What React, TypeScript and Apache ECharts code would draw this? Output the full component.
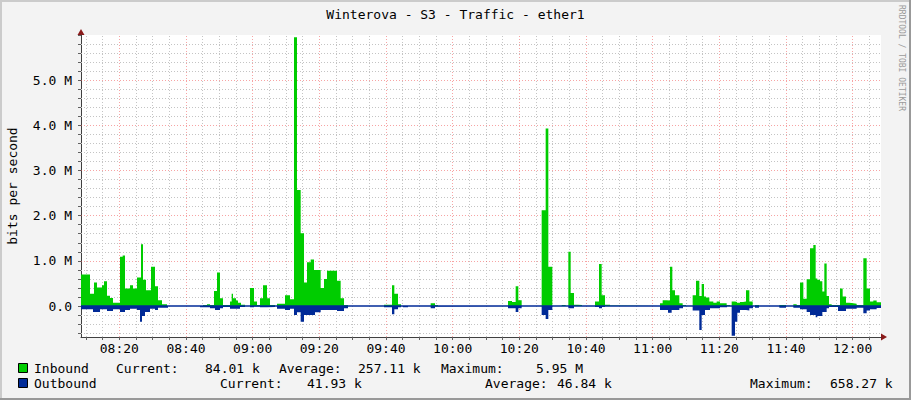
import React, { useEffect, useRef } from "react";
import * as echarts from "echarts";

const TITLE = "Winterova - S3 - Traffic - ether1";
const Y_TITLE = "bits per second";
const WATERMARK = "RRDTOOL / TOBI OETIKER";
const FONT = "DejaVu Sans Mono";

// time axis: minutes after 08:00
const X_START = 8.5;
const X_END = 248.5;
const Y_MIN = -0.686;
const Y_MAX = 6.0;

const xLabelMinutes = [20, 40, 60, 80, 100, 120, 140, 160, 180, 200, 220, 240];
const yLabelValues = [0, 1, 2, 3, 4, 5];

// Inbound (Mbit/s), step segments starting at given minute
const inboundTimes = [
  8.5, 11.2, 12.4, 13.3, 14.8, 15.4, 16.3, 17.2, 18.1, 20.2, 21.0, 21.7, 23.2, 24.1, 25.3, 26.5, 27.1, 28.0,
  29.5, 30.7, 31.6, 32.8, 34.3, 45.1, 46.3, 47.2, 48.4, 49.3, 50.2, 51.1, 53.2, 53.7, 54.1, 55.0, 55.6, 56.5,
  57.7, 59.2, 60.4, 61.3, 62.2, 63.1, 64.3, 65.2, 66.7, 67.3, 69.7, 71.2, 72.4, 73.3, 74.4, 75.4, 76.3, 77.4,
  78.4, 80.4, 81.4, 82.3, 85.3, 86.4, 87.4, 88.6, 99.4, 101.8, 102.5, 103.6, 104.5, 113.4, 114.7, 115.6, 136.6,
  137.8, 138.9, 139.7, 140.7, 146.7, 147.9, 148.7, 149.9, 152.7, 153.9, 154.7, 155.4, 156.4, 157.6, 158.8,
  162.7, 163.9, 164.7, 165.7, 167.2, 168.1, 182.2, 183.0, 184.2, 185.2, 185.9, 186.7, 188.0, 189.0, 190.0,
  192.0, 193.0, 194.0, 194.7, 195.4, 196.0, 197.0, 198.2, 199.2, 200.2, 202.2, 203.2, 203.7, 204.7, 205.3,
  206.2, 207.1, 208.0, 209.0, 210.0, 210.7, 211.9, 218.0, 220.0, 222.2, 223.2, 224.2, 225.2, 226.2, 227.2,
  228.2, 228.9, 229.4, 230.2, 230.9, 231.5, 232.2, 232.9, 233.7, 236.2, 237.0, 238.0, 239.0, 240.2, 241.2,
  243.2, 244.2, 245.2, 246.2, 247.2,
];
const inboundValues = [
  0.7, 0.27, 0.52, 0.41, 0.46, 0.55, 0.23, 0.18, 0.07, 1.09, 1.12, 0.39, 0.46, 0.39, 0.63, 1.37, 0.58, 0.35,
  0.87, 0.44, 0.13, 0.04, 0, 0.02, 0.04, 0.02, 0.33, 0.74, 0.17, 0.02, 0.1, 0.27, 0.17, 0.12, 0.07, 0.03,
  0, 0.4, 0.1, 0.02, 0.17, 0.46, 0.17, 0.02, 0, 0.05, 0.24, 0.15, 5.95, 2.57, 1.61, 0.52, 0.97, 1.03,
  0.8, 0.4, 0.6, 0.78, 0.56, 0.17, 0.02, 0, 0.03, 0.46, 0.27, 0.04, 0, 0.06, 0.02, 0, 0.11,
  0.09, 0.44, 0.13, 0, 2.12, 3.93, 0.87, 0, 0.02, 0, 1.2, 0.29, 0.03, 0.02, 0,
  0.1, 0.93, 0.24, 0.03, 0.01, 0, 0.06, 0.13, 0.12, 0.87, 0.35, 0.24, 0.06, 0.02, 0,
  0.24, 0.56, 0.22, 0.49, 0.21, 0.19, 0.1, 0.07, 0.1, 0.06, 0.02, 0, 0.1, 0.09, 0.07,
  0.09, 0.1, 0.35, 0.1, 0, 0.02, 0, 0.02, 0, 0.04, 0.02, 0.52, 0.16, 0.59, 1.28,
  1.35, 0.61, 0.58, 0.55, 0.32, 0.94, 0.22, 0.04, 0.02, 0.39, 0.21, 0.07, 0.06, 0.05, 0.02,
  1.06, 0.39, 0.1, 0.12, 0.084,
];

// Outbound (Mbit/s, drawn negative)
const outboundTimes = [
  8.5, 12.1, 14.2, 16.3, 18.1, 20.2, 21.7, 23.2, 25.3, 26.2, 26.8, 27.7, 29.2, 30.7, 31.6, 34.6, 44.2, 47.2,
  48.7, 50.2, 51.1, 53.2, 56.2, 57.7, 59.2, 60.4, 62.2, 64.3, 66.7, 67.3, 69.7, 71.2, 72.4, 73.3, 74.4, 75.4,
  78.7, 80.4, 85.3, 87.4, 88.6, 99.4, 101.8, 102.5, 103.6, 104.5, 105.1, 106.6, 113.4, 114.7, 115.6, 136.6,
  138.9, 139.7, 140.7, 146.7, 147.9, 148.7, 149.9, 154.7, 156.4, 162.7, 163.9, 164.8, 165.7, 182.2, 184.6,
  185.7, 188.0, 189.1, 192.0, 194.0, 194.7, 195.7, 197.2, 200.2, 202.3, 203.7, 204.7, 205.4, 206.2, 208.0,
  209.0, 210.1, 210.7, 211.9, 218.0, 220.0, 222.2, 224.2, 226.2, 227.2, 228.9, 229.4, 230.9, 232.2, 232.9,
  235.6, 238.0, 241.2, 243.2, 244.2, 245.2, 247.2,
];
const outboundValues = [
  -0.07, -0.13, -0.07, -0.11, -0.07, -0.13, -0.09, -0.06, -0.09, -0.35, -0.22, -0.13, -0.06, -0.09, -0.04, 0, -0.03, -0.05,
  -0.09, -0.05, -0.02, -0.06, -0.02, 0, -0.03, -0.01, -0.03, -0.02, 0, -0.06, -0.09, -0.06, -0.2, -0.14, -0.35, -0.2,
  -0.14, -0.09, -0.11, -0.05, 0, -0.03, -0.18, -0.07, -0.03, 0, -0.03, 0, -0.05, -0.01, 0, -0.05,
  -0.13, -0.05, 0, -0.2, -0.29, -0.09, 0, -0.05, 0, -0.02, -0.05, -0.02, 0, -0.09, -0.15,
  -0.09, -0.05, 0, -0.1, -0.53, -0.2, -0.09, -0.05, -0.03, 0, -0.658, -0.35, -0.15, -0.09, -0.1,
  -0.05, 0, -0.04, 0, -0.04, 0, -0.04, -0.07, -0.13, -0.2, -0.25, -0.22, -0.13, -0.05, -0.02,
  -0.11, -0.06, -0.04, -0.16, -0.1, -0.07, -0.042,
];

const legendInbound = ["Inbound", "Current:", "84.01 k", "Average:", "257.11 k", "Maximum:", "5.95 M"];
const legendOutbound = ["Outbound", "Current:", "41.93 k", "Average:", "46.84 k", "Maximum:", "658.27 k"];
const legendInboundX = [34, 116, 205, 279, 358, 441, 536];
const legendOutboundX = [34, 220, 307, 485, 557, 750, 830];

const IN_COLOR = "#00cc00";
const OUT_COLOR = "#002a97";

function toPairs(times: number[], values: number[]) {
  const d = times.map((t, i) => [t, values[i]]);
  d.push([X_END, values[values.length - 1]]);
  return d;
}

function fmtTime(m: number) {
  const h = 8 + Math.floor(m / 60);
  const mm = Math.round(m % 60);
  return (h < 10 ? "0" : "") + h + ":" + (mm < 10 ? "0" : "") + mm;
}

export default function App() {
  const ref = useRef<HTMLDivElement>(null);
  useEffect(() => {
    document.body.style.margin = "0";
    const chart = echarts.init(ref.current!, null, { renderer: "svg" });

    const minorX: number[] = [];
    const majorX: number[] = [];
    for (let m = 10; m <= 245; m += 5) {
      if (m % 20 === 0) majorX.push(m);
      else minorX.push(m);
    }
    const minorY: number[] = [];
    const majorY: number[] = [];
    const yTicks: number[] = [];
    for (let k = -3; k <= 30; k++) {
      const v = k / 5;
      yTicks.push(v);
      if (k % 5 === 0) {
        if (k > 0 && k < 30) majorY.push(v);
      } else minorY.push(v);
    }
    const xTicks = minorX.concat(majorX).sort((a, b) => a - b);

    const graphics: any[] = [
      // frame
      { type: "line", shape: { x1: 0, y1: 1, x2: 911, y2: 1 }, style: { stroke: "#cbcbcb", lineWidth: 2 } },
      { type: "line", shape: { x1: 1, y1: 0, x2: 1, y2: 400 }, style: { stroke: "#cbcbcb", lineWidth: 2 } },
      { type: "line", shape: { x1: 0, y1: 399, x2: 911, y2: 399 }, style: { stroke: "#999999", lineWidth: 2 } },
      { type: "line", shape: { x1: 910, y1: 0, x2: 910, y2: 400 }, style: { stroke: "#999999", lineWidth: 2 } },
      // title
      {
        type: "text", x: 455.5, y: 14,
        style: { text: TITLE, font: `13px "${FONT}"`, fill: "#000", textAlign: "center", textVerticalAlign: "middle" },
      },
      // y axis title
      {
        type: "text", x: 12, y: 186, rotation: Math.PI / 2,
        style: { text: Y_TITLE, font: `13px "${FONT}"`, fill: "#000", textAlign: "center", textVerticalAlign: "middle" },
      },
      // watermark
      {
        type: "text", x: 901, y: 5, rotation: -Math.PI / 2,
        style: { text: WATERMARK, font: `8px "${FONT}"`, fill: "#9a9a9a", textAlign: "left", textVerticalAlign: "middle" },
      },
      // arrows
      { type: "polygon", shape: { points: [[77.5, 35], [84.5, 35], [81, 29]] }, style: { fill: "#8b1a1a" } },
      { type: "polygon", shape: { points: [[881, 333.5], [881, 340.5], [887, 337]] }, style: { fill: "#8b1a1a" } },
      // legend squares
      { type: "rect", shape: { x: 18.5, y: 363.5, width: 9, height: 9 }, style: { fill: IN_COLOR, stroke: "#000", lineWidth: 1 } },
      { type: "rect", shape: { x: 18.5, y: 378.5, width: 9, height: 9 }, style: { fill: OUT_COLOR, stroke: "#000", lineWidth: 1 } },
    ];
    legendInbound.forEach((t, i) =>
      graphics.push({
        type: "text", x: legendInboundX[i], y: 368.5,
        style: { text: t, font: `13px "${FONT}"`, fill: "#000", textAlign: "left", textVerticalAlign: "middle" },
      })
    );
    legendOutbound.forEach((t, i) =>
      graphics.push({
        type: "text", x: legendOutboundX[i], y: 383.5,
        style: { text: t, font: `13px "${FONT}"`, fill: "#000", textAlign: "left", textVerticalAlign: "middle" },
      })
    );

    const option: any = {
      animation: false,
      backgroundColor: "#f3f3f3",
      grid: { left: 81, right: 30, top: 35, bottom: 63, show: true, backgroundColor: "#ffffff", borderWidth: 0 },
      xAxis: {
        type: "value",
        min: X_START,
        max: X_END,
        splitLine: { show: false },
        axisLine: { show: true, onZero: false, lineStyle: { color: "#404040", width: 1 } },
        axisTick: { show: true, customValues: xTicks, length: 3, lineStyle: { color: "#606060" } },
        axisLabel: {
          customValues: xLabelMinutes,
          formatter: (v: number) => fmtTime(v),
          fontFamily: FONT,
          fontSize: 13,
          color: "#000",
          margin: 5,
        },
      },
      yAxis: {
        type: "value",
        min: Y_MIN,
        max: Y_MAX,
        splitLine: { show: false },
        axisLine: { show: true, onZero: false, lineStyle: { color: "#404040", width: 1 } },
        axisTick: { show: true, customValues: yTicks, length: 3, lineStyle: { color: "#606060" } },
        axisLabel: {
          customValues: yLabelValues,
          formatter: (v: number) => (v === 0 ? "0.0" : v.toFixed(1) + " M"),
          fontFamily: FONT,
          fontSize: 13,
          color: "#000",
          margin: 9,
        },
      },
      graphic: graphics,
      series: [
        {
          type: "line",
          data: [],
          z: 1,
          silent: true,
          markLine: {
            z: 1,
            silent: true,
            symbol: ["none", "none"],
            label: { show: false },
            lineStyle: { color: "#c4c4c4", type: [1, 2], width: 1 },
            data: [...minorX.map((x) => ({ xAxis: x })), ...minorY.map((y) => ({ yAxis: y }))],
          },
        },
        {
          type: "line",
          data: [],
          z: 1,
          silent: true,
          markLine: {
            z: 1,
            silent: true,
            symbol: ["none", "none"],
            label: { show: false },
            lineStyle: { color: "rgba(240,90,90,0.55)", type: [1, 2], width: 1 },
            data: [...majorX.map((x) => ({ xAxis: x })), ...majorY.map((y) => ({ yAxis: y }))],
          },
        },
        {
          name: "Inbound",
          type: "line",
          step: "end",
          z: 3,
          showSymbol: false,
          silent: true,
          color: IN_COLOR,
          lineStyle: { width: 0 },
          areaStyle: { color: IN_COLOR, opacity: 1 },
          data: toPairs(inboundTimes, inboundValues),
        },
        {
          name: "Outbound",
          type: "line",
          step: "end",
          z: 4,
          showSymbol: false,
          silent: true,
          color: OUT_COLOR,
          lineStyle: { width: 0 },
          areaStyle: { color: OUT_COLOR, opacity: 1 },
          data: toPairs(outboundTimes, outboundValues),
          markLine: {
            z: 6,
            silent: true,
            symbol: ["none", "none"],
            label: { show: false },
            lineStyle: { color: OUT_COLOR, type: "solid", width: 1.5 },
            data: [{ yAxis: 0 }],
          },
        },
      ],
    };
    chart.setOption(option);
    return () => chart.dispose();
  }, []);
  return <div ref={ref} style={{ width: 911, height: 400 }} />;
}
